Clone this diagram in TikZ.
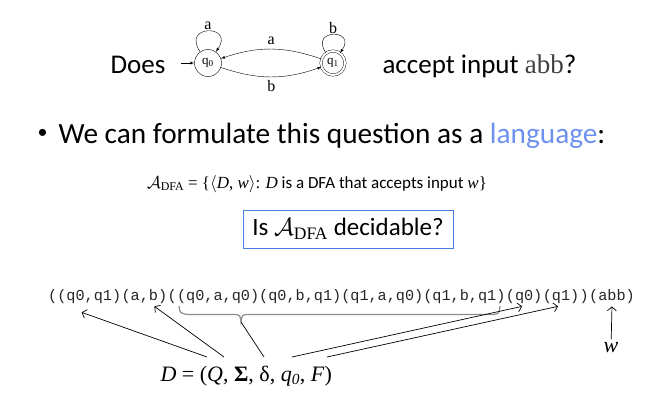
\documentclass[tikz,border=0pt]{standalone}
\usepackage{fontspec}
\setmainfont{Carlito}
\setmonofont{Liberation Mono}
\newfontfamily\tmsfont{Liberation Serif}
\usepackage{amsmath}
\usepackage{xcolor}
\usepackage{tikz}
\definecolor{langblue}{RGB}{110,145,240}
\definecolor{boxblue}{RGB}{70,125,225}
\definecolor{bracegray}{RGB}{140,140,140}
\newcommand{\dfasub}{\text{\tmsfont DFA}}
\tikzset{>=latex,
    state/.style={draw, circle, minimum size=27pt, inner sep=0pt,
      font=\tmsfont\fontsize{13}{13}\selectfont},
    accepting/.style={double, double distance=2pt, minimum size=24pt},
    edgelabel/.style={font=\tmsfont\fontsize{16}{16}\selectfont, inner sep=1pt},
    enc/.style={anchor=base west, inner xsep=0pt, inner ysep=3pt, text=black!85,
      font=\ttfamily\fontsize{15.2}{15.2}\selectfont},
    pointer/.style={-{Straight Barb[length=4pt, width=9pt]}, line width=0.7pt}}
\usetikzlibrary{calc, arrows.meta}

\begin{document}
\begin{tikzpicture}[x=1pt, y=-1pt]
    \useasboundingbox (0,0) rectangle (648,408);
    % the automaton in the question
    \node[anchor=base west, font=\fontsize{27}{27}\selectfont] (does) at (107,73) {Does};
    \node[state] (q0) at (208,63) {q\textsubscript{0}};
    \node[state, accepting] (q1) at (333,63) {q\textsubscript{1}};
    \coordinate (init) at (181,63);
    \draw[->] (init) -- (q0);
    \draw[->] (q0) to[out=125, in=55, looseness=5.5] node[edgelabel, above] {a} (q0);
    \draw[->] (q1) to[out=125, in=55, looseness=5.5] node[edgelabel, above] {b} (q1);
    \draw[->] (q1) to[bend right=19] node[edgelabel, above=3pt] {a} (q0);
    \draw[->] (q0) to[bend right=19] node[edgelabel, below=2pt] {b} (q1);
    \node[anchor=base west, font=\fontsize{27}{27}\selectfont] (accept) at (379,73)
      {accept input {\tmsfont\color{black!75}abb}?};
    % the language
    \node[anchor=base west, font=\fontsize{20}{20}\selectfont] (bullet) at (34,138) {\textbullet};
    \node[anchor=base west, font=\fontsize{29.3}{29.3}\selectfont] (question) at (55,143)
      {We can formulate this question as a \textcolor{langblue}{language}:};
    \node[anchor=base, font=\fontsize{17}{17}\selectfont] (lang) at (317,188)
      {$\mathcal{A}_{\dfasub}$ {\tmsfont= \{}$\langle${\tmsfont\itshape D}{\tmsfont, \itshape w}$\rangle${\tmsfont:} {\tmsfont\itshape D}
       is a DFA that accepts input {\tmsfont\itshape w\/\upshape\}}};
    \node[draw=boxblue, line width=1pt, minimum width=210pt, minimum height=38pt,
      font=\fontsize{25}{25}\selectfont] (ask) at (348,229)
      {Is $\mathcal{A}_{\dfasub}$ decidable?};
    % the encoding of D and w
    \node[enc] (states) at (48,300) {((q0,q1)};
    \node[enc] (alph) at (states.base east) {(a,b)};
    \node[enc] (open) at (alph.base east) {(};
    \node[enc] (trans) at (open.base east) {(q0,a,q0)(q0,b,q1)(q1,a,q0)(q1,b,q1)};
    \node[enc] (start) at (trans.base east) {(q0)};
    \node[enc] (final) at (start.base east) {(q1)};
    \node[enc] (close) at (final.base east) {)};
    \node[enc] (input) at (close.base east) {(abb)};
    \draw[bracegray, line width=1.2pt] (179,306) .. controls (180,313) .. (187,314.5)
      -- (235,314.5) .. controls (240,315) .. (241,322) coordinate (bracetip)
      .. controls (242,315) .. (247,314.5) -- (492,314.5) .. controls (499,314) .. (500,306);
    \node[anchor=base west, font=\tmsfont\fontsize{22}{22}\selectfont] (tuple) at (157,381)
      {\textit{D} = (\textit{Q}, \textbf{Σ}, δ, \textit{q}\textsubscript{\itshape 0}, \textit{F})};
    \coordinate (fromQ) at (207,357);
    \coordinate (fromS) at (224,357);
    \coordinate (fromd) at (264,357);
    \coordinate (fromq) at (292,357);
    \coordinate (fromF) at (327,357);
    \draw[pointer] (fromQ) -- ([xshift=-3pt, yshift=-6pt]states.south);
    \draw[pointer] (fromS) -- ([xshift=10pt]alph.south);
    \draw[line width=0.7pt] (fromd) -- (bracetip);
    \draw[pointer] (fromq) -- ([xshift=-2pt]start.south);
    \draw[pointer] (fromF) -- ([xshift=-3pt]final.south);
    \node[font=\tmsfont\itshape\fontsize{22}{22}\selectfont] (wlab) at (611,348) {w};
    \draw[pointer] (wlab) -- (input.south);
\end{tikzpicture}
\end{document}
